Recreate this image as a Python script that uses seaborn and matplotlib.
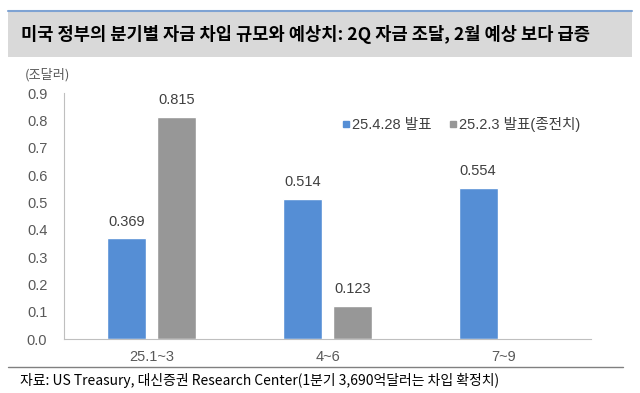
import matplotlib
matplotlib.use("Agg")
import matplotlib.pyplot as plt
import seaborn as sns
import pandas as pd
import numpy as np
from matplotlib.patches import Rectangle
from matplotlib.lines import Line2D

categories = ["25.1~3", "4~6", "7~9"]
series_names = ["25.4.28 발표", "25.2.3 발표(종전치)"]
new_values = [0.369, 0.514, 0.554]
old_values = [0.815, 0.123, np.nan]
y_ticks = [0.0, 0.1, 0.2, 0.3, 0.4, 0.5, 0.6, 0.7, 0.8, 0.9]

title = "미국 정부의 분기별 자금 차입 규모와 예상치: 2Q 자금 조달, 2월 예상 보다 급증"
unit = "(조달러)"
source = "자료: US Treasury, 대신증권 Research Center(1분기 3,690억달러는 차입 확정치)"

df = pd.DataFrame({
    "cat": categories * 2,
    "series": [series_names[0]] * 3 + [series_names[1]] * 3,
    "value": new_values + old_values,
})

sns.set_theme(style="white")
plt.rcParams["font.family"] = ["Noto Sans CJK KR", "DejaVu Sans"]
num_font = ["Liberation Sans", "Noto Sans CJK KR", "DejaVu Sans"]

W, H = 640, 393
fig = plt.figure(figsize=(6.4, 3.93), dpi=100)
ax = fig.add_axes([64 / W, 1 - 339.3 / H, (591 - 64) / W, (339.3 - 93.3) / H])

blue = "#558ED5"
gray = "#979797"
sns.barplot(data=df, x="cat", y="value", hue="series", order=categories,
            hue_order=series_names, palette=[blue, gray], width=0.57, gap=0.22,
            ax=ax, legend=False, saturation=1, errorbar=None)

for cont in ax.containers:
    labels = ax.bar_label(cont, fmt="%.3f", padding=7, fontsize=10.5, color="#404040")
    for t in labels:
        t.set_family(num_font)

ax.set_xlim(-0.5, 2.5)
ax.set_ylim(0, 0.9)
ax.set_yticks(y_ticks)
ax.set_yticklabels([f"{v:.1f}" for v in y_ticks])
ax.set_xlabel("")
ax.set_ylabel("")
for s in ["top", "right"]:
    ax.spines[s].set_visible(False)
for s in ["left", "bottom"]:
    ax.spines[s].set_color("#BFBFBF")
    ax.spines[s].set_linewidth(0.8)
ax.tick_params(axis="y", direction="in", length=3, width=0.8, color="#BFBFBF",
               labelsize=10.5, labelcolor="#595959", pad=12)
ax.tick_params(axis="x", which="major", length=0, labelsize=10.5, labelcolor="#595959", pad=8)
ax.set_xticks([0.5, 1.5, 2.5], minor=True)
ax.tick_params(axis="x", which="minor", direction="in", length=3, width=0.8, color="#BFBFBF")
for t in ax.get_xticklabels() + ax.get_yticklabels():
    t.set_family(num_font)

handles = [Line2D([], [], marker="s", linestyle="none", markersize=5,
                  markerfacecolor=c, markeredgecolor=c) for c in [blue, gray]]
leg = ax.legend(handles, series_names, ncol=2, loc="upper right",
                bbox_to_anchor=(1.005, 0.955), frameon=False,
                prop={"family": num_font, "size": 10.5}, handletextpad=-0.1,
                columnspacing=1.0, labelcolor="#404040", handlelength=1.0)

# Title bar
fig.patches.append(Rectangle((8 / W, 1 - 57 / H), (632 - 8) / W, (57 - 11) / H,
                             transform=fig.transFigure, facecolor="#D9D9D9",
                             edgecolor="none", zorder=0))
fig.add_artist(Line2D([8 / W, 632 / W], [1 - 10.5 / H, 1 - 10.5 / H],
                      transform=fig.transFigure, color="#7FA3D3", linewidth=1.5))
fig.text(21 / W, 1 - 34 / H, title, fontsize=12.7, fontweight="bold",
         color="#000000", va="center", ha="left")

fig.text(25 / W, 1 - 75 / H, unit, fontsize=9.5, color="#595959", va="center", ha="left")

# Footer
fig.add_artist(Line2D([8 / W, 623 / W], [1 - 367 / H, 1 - 367 / H],
                      transform=fig.transFigure, color="#808080", linewidth=1.0))
fig.text(20 / W, 1 - 380 / H, source, fontsize=10, color="#000000",
         va="center", ha="left")

fig.savefig("out.png", dpi=100)
